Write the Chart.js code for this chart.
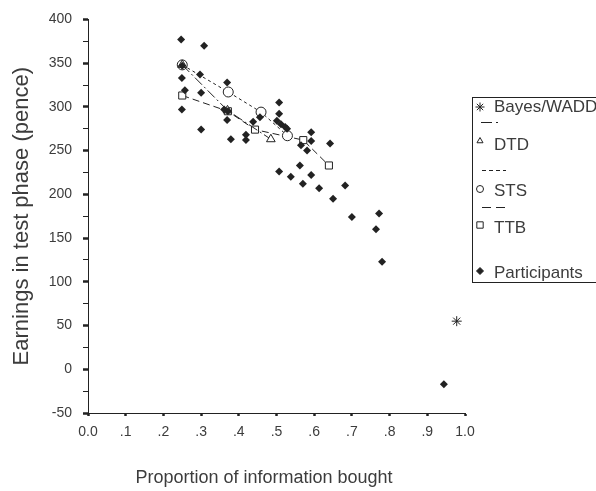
<!DOCTYPE html>
<html>
<head>
<meta charset="utf-8">
<script src="https://cdn.jsdelivr.net/npm/chart.js@4.4.0/dist/chart.umd.min.js"></script>
<style>
  html, body { margin: 0; padding: 0; background: #fff; }
  #wrap { width: 596px; height: 491px; }
</style>
</head>
<body>
<div id="wrap"><canvas id="fig" width="596" height="491"></canvas></div>
<script>
// participants (proportion bought, earnings)
const partX = [0.247, 0.308, 0.25, 0.297, 0.249, 0.369, 0.257, 0.300, 0.249, 0.361,
               0.371, 0.369, 0.300, 0.379, 0.419, 0.419, 0.456, 0.507, 0.507, 0.438,
               0.501, 0.512, 0.523, 0.528, 0.592, 0.592, 0.642, 0.565, 0.581, 0.562,
               0.507, 0.538, 0.592, 0.570, 0.613, 0.682, 0.650, 0.700, 0.772, 0.764,
               0.780, 0.944];
const partY = [377, 370, 347, 337, 333, 328, 319, 316, 297, 297,
               295, 285, 274, 263, 268, 262, 288, 305, 292, 283,
               284, 280, 277, 275, 271, 261, 258, 256, 250, 233,
               226, 220, 222, 212, 207, 210, 195, 174, 178, 160,
               123, -17];

// model predictions
const dtdX = [0.25, 0.37, 0.485];
const dtdY = [348, 296, 263];
const stsX = [0.25, 0.372, 0.459, 0.529];
const stsY = [348, 317, 294, 267];
const ttbX = [0.25, 0.371, 0.443, 0.571, 0.639];
const ttbY = [313, 295, 274, 262, 233];
const bayesX = [0.978];
const bayesY = [55];

const xTickLabels = ['0.0', '.1', '.2', '.3', '.4', '.5', '.6', '.7', '.8', '.9', '1.0'];
const yTickLabels = [400, 350, 300, 250, 200, 150, 100, 50, 0, -50];
const legendLabels = ['Bayes/WADD', 'DTD', 'STS', 'TTB', 'Participants'];

const ink = '#222';
const txt = '#3c3c3c';
const family = "'Liberation Sans', Arial, sans-serif";

function pts(xs, ys) {
    return xs.map((x, i) => ({ x: x, y: ys[i] }));
}

// boxed legend on the right, same layout as the figure
const boxLegend = {
    id: 'boxLegend',
    afterDraw(chart) {
        const ctx = chart.ctx;
        const drawPoint = Chart.helpers.drawPoint;
        ctx.save();
        ctx.strokeStyle = ink;
        ctx.lineWidth = 1;
        ctx.strokeRect(472.5, 97.5, 160, 185);

        ctx.font = '17px ' + family;
        ctx.textBaseline = 'middle';
        ctx.textAlign = 'left';

        function sym(style, r, x, y, fill) {
            ctx.fillStyle = fill;
            ctx.strokeStyle = ink;
            drawPoint(ctx, { pointStyle: style, radius: r, rotation: 0, borderWidth: 1 }, x, y);
        }
        function dash(pattern, x0, x1, y) {
            ctx.beginPath();
            ctx.setLineDash(pattern);
            ctx.strokeStyle = ink;
            ctx.moveTo(x0, y + 0.5);
            ctx.lineTo(x1, y + 0.5);
            ctx.stroke();
            ctx.setLineDash([]);
        }

        sym('star', 4.5, 480, 107, ink);
        dash([11, 4, 2, 4], 481, 500, 122);
        sym('triangle', 3.5, 480, 141, '#fff');
        dash([4, 3], 482, 506, 170);
        sym('circle', 3.5, 480, 189, '#fff');
        dash([9, 5], 482, 506, 207);
        sym('rect', 4.5, 480, 225, '#fff');
        sym('rectRot', 3.5, 480, 271, ink);

        ctx.fillStyle = txt;
        ctx.fillText(legendLabels[0], 494, 107);
        ctx.fillText(legendLabels[1], 494, 145);
        ctx.fillText(legendLabels[2], 494, 191);
        ctx.fillText(legendLabels[3], 494, 228);
        ctx.fillText(legendLabels[4], 494, 273);
        ctx.restore();
    }
};

const modelBase = {
    showLine: true,
    borderColor: ink,
    borderWidth: 1,
    pointBackgroundColor: '#fff',
    pointBorderColor: ink,
    pointBorderWidth: 1,
};

const config = {
    type: 'scatter',
    data: {
        datasets: [{
            label: 'Participants',
            data: pts(partX, partY),
            pointStyle: 'rectRot',
            pointRadius: 4,
            backgroundColor: ink,
            borderColor: ink,
            borderWidth: 0,
            order: 0
        }, Object.assign({}, modelBase, {
            label: 'DTD',
            data: pts(dtdX, dtdY),
            borderDash: [10, 3, 2, 3],
            pointStyle: 'triangle',
            pointRadius: 5,
            order: 1
        }), Object.assign({}, modelBase, {
            label: 'STS',
            data: pts(stsX, stsY),
            borderDash: [3, 3],
            pointStyle: 'circle',
            pointRadius: 5,
            order: 2
        }), Object.assign({}, modelBase, {
            label: 'TTB',
            data: pts(ttbX, ttbY),
            borderDash: [7, 4],
            pointStyle: 'rect',
            pointRadius: 5,
            order: 3
        }), {
            label: 'Bayes/WADD',
            data: pts(bayesX, bayesY),
            pointStyle: 'star',
            pointRadius: 5,
            borderColor: ink,
            borderWidth: 1,
            order: 4
        }]
    },
    options: {
        responsive: false,
        animation: false,
        events: [],
        layout: { padding: { top: 18, right: 131, bottom: 0, left: 0 } },
        plugins: {
            legend: { display: false },
            tooltip: { enabled: false }
        },
        scales: {
            x: {
                type: 'linear',
                min: 0,
                max: 1,
                afterFit: (s) => { s.height = 78; },
                border: { display: true, color: ink, width: 1 },
                grid: { drawOnChartArea: false, tickLength: 3, tickWidth: 2.5, tickColor: ink },
                ticks: {
                    stepSize: 0.1,
                    padding: 8,
                    color: txt,
                    font: { family: family, size: 14 },
                    maxRotation: 0,
                    callback: (v, i) => xTickLabels[i]
                },
                title: {
                    display: true,
                    // trailing spaces nudge the centred title left, as in the figure
                    text: 'Proportion of information bought     ',
                    color: txt,
                    font: { family: family, size: 18 },
                    padding: { top: 0, bottom: 2 }
                }
            },
            y: {
                type: 'linear',
                min: -50,
                max: 400,
                afterFit: (s) => { s.width = 88; },
                border: { display: true, color: ink, width: 1 },
                grid: {
                    drawOnChartArea: false,
                    tickLength: 5,
                    tickColor: ink,
                    tickWidth: (c) => (c.tick && yTickLabels.includes(c.tick.value)) ? 2.5 : 1
                },
                ticks: {
                    stepSize: 25,
                    padding: 11,
                    color: txt,
                    font: { family: family, size: 14 },
                    callback: (v) => yTickLabels.includes(v) ? String(v) : ''
                },
                title: {
                    display: true,
                    text: 'Earnings in test phase (pence)',
                    color: txt,
                    font: { family: family, size: 22 },
                    padding: { top: 9, bottom: 0 }
                }
            }
        }
    },
    plugins: [boxLegend]
};

window.figChart = new Chart(document.getElementById('fig'), config);
</script>
</body>
</html>
